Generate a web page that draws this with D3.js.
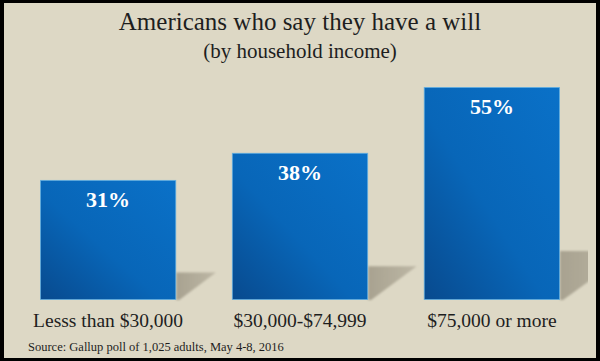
<!DOCTYPE html>
<html>
<head>
<meta charset="utf-8">
<script src="https://cdn.jsdelivr.net/npm/d3@7"></script>
<style>
  html, body { margin: 0; padding: 0; background: #000; }
  #chart { width: 600px; height: 361px; }
</style>
</head>
<body>
<div id="chart"></div>
<script>
// data
var categories = ["Lesss than $30,000", "$30,000-$74,999", "$75,000 or more"]
var values = [31, 38, 55]
var valueLabels = ["31%", "38%", "55%"]

var titleText = "Americans who say they have a will"
var subtitleText = "(by household income)"
var sourceText = "Source: Gallup poll of 1,025 adults, May 4-8, 2016"

var width = 600, height = 361
var margin = {top: 87, right: 40, bottom: 61, left: 40}
var serif = "'Liberation Serif', 'DejaVu Serif', serif"

var svg = d3.select("#chart")
  .append("svg")
  .attr("width", width)
  .attr("height", height)

var defs = svg.append("defs")

var grad = defs.append("linearGradient")
  .attr("id", "barGrad")
  .attr("x1", 1).attr("y1", 0).attr("x2", 0).attr("y2", 1)
grad.append("stop").attr("offset", "0%").attr("stop-color", "#0a71c8")
grad.append("stop").attr("offset", "55%").attr("stop-color", "#0866b8")
grad.append("stop").attr("offset", "100%").attr("stop-color", "#084a8e")

var shadowGrad = defs.append("linearGradient")
  .attr("id", "shadowGrad")
  .attr("x1", 0).attr("y1", 0).attr("x2", 1).attr("y2", 0)
shadowGrad.append("stop").attr("offset", "0%").attr("stop-color", "#a8a290")
shadowGrad.append("stop").attr("offset", "100%").attr("stop-color", "#bdb7a5")

defs.append("filter")
  .attr("id", "blur")
  .attr("x", "-20%").attr("y", "-20%").attr("width", "140%").attr("height", "140%")
  .append("feGaussianBlur").attr("stdDeviation", 1.2)

defs.append("clipPath").attr("id", "panelClip")
  .append("rect").attr("x", 4).attr("y", 3).attr("width", 584).attr("height", 355)

// black frame + beige panel
svg.append("rect").attr("width", width).attr("height", height).attr("fill", "#000")
svg.append("rect")
  .attr("x", 4).attr("y", 3)
  .attr("width", width - 8).attr("height", height - 6)
  .attr("fill", "#ddd8c5")

var x = d3.scaleBand()
  .domain(categories)
  .range([margin.left, width - margin.right])
  .paddingInner(0.29)
  .paddingOuter(0)

var y = d3.scaleLinear()
  .domain([0, 55])
  .range([height - margin.bottom, margin.top])

var data = categories.map(function(c, i) { return {cat: c, v: values[i], label: valueLabels[i]} })

// shadows behind the bars
svg.append("g")
  .attr("clip-path", "url(#panelClip)")
  .selectAll("path")
  .data(data)
  .join("path")
    .attr("fill", "url(#shadowGrad)")
    .attr("filter", "url(#blur)")
    .attr("d", function(d) {
      var x1 = x(d.cat) + x.bandwidth()
      var bottom = y(0)
      var h = y(0) - y(d.v)
      var sh = h * 0.23, sw = h * 0.33
      return "M" + x1 + "," + (bottom - sh) +
             "L" + (x1 + sw) + "," + (bottom - sh) +
             "L" + (x1 + 3) + "," + bottom +
             "L" + x1 + "," + bottom + "Z"
    })

// bars
svg.append("g")
  .selectAll("rect")
  .data(data)
  .join("rect")
    .attr("x", d => x(d.cat) + 0.5)
    .attr("y", d => y(d.v) + 0.5)
    .attr("width", x.bandwidth() - 1)
    .attr("height", d => y(0) - y(d.v) - 1)
    .attr("fill", "url(#barGrad)")
    .attr("stroke", "#5aaee6")
    .attr("stroke-opacity", 0.7)
    .attr("stroke-width", 1)

// value labels
svg.append("g")
  .selectAll("text")
  .data(data)
  .join("text")
    .attr("x", d => x(d.cat) + x.bandwidth() / 2)
    .attr("y", d => y(d.v) + 27)
    .attr("text-anchor", "middle")
    .style("font-family", serif)
    .style("font-weight", "bold")
    .style("font-size", "22px")
    .style("fill", "#fff")
    .text(d => d.label)

// category labels
svg.append("g")
  .selectAll("text")
  .data(data)
  .join("text")
    .attr("x", d => x(d.cat) + x.bandwidth() / 2)
    .attr("y", y(0) + 27)
    .attr("text-anchor", "middle")
    .style("font-family", serif)
    .style("font-size", "19.5px")
    .style("fill", "#1e1e1e")
    .text(d => d.cat)

// title
svg.append("text")
  .attr("x", 300)
  .attr("y", 30)
  .attr("text-anchor", "middle")
  .style("font-family", serif)
  .style("font-size", "25px")
  .style("fill", "#1e1e1e")
  .text(titleText)

svg.append("text")
  .attr("x", 300)
  .attr("y", 58)
  .attr("text-anchor", "middle")
  .style("font-family", serif)
  .style("font-size", "21px")
  .style("fill", "#1e1e1e")
  .text(subtitleText)

svg.append("text")
  .attr("x", 28)
  .attr("y", 351)
  .style("font-family", serif)
  .style("font-size", "12.5px")
  .style("fill", "#1e1e1e")
  .text(sourceText)
</script>
</body>
</html>
